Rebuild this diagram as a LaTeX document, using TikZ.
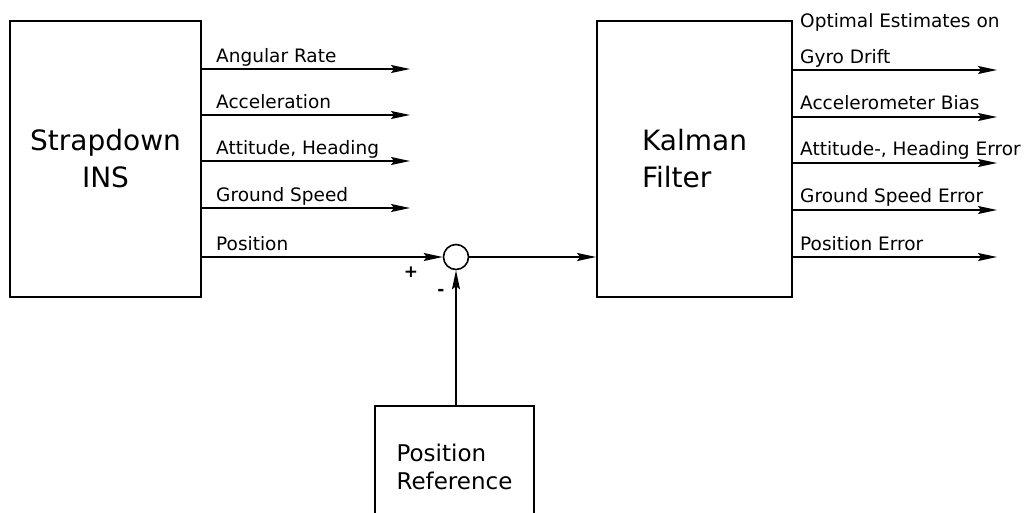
\documentclass[tikz,border=0pt]{standalone}
\usepackage{fontspec}
\setmainfont{DejaVu Sans}
\usetikzlibrary{arrows.meta}

\begin{document}
\begin{tikzpicture}[
    x=1pt, y=1pt,
    >={Stealth[length=19pt, width=8pt, inset=3pt]},
    box/.style={
        draw,
        line width=1.8pt,
        inner sep=0pt,
        font=\fontsize{28}{37}\selectfont
    },
    sig/.style={->, line width=1.5pt},
    lbl/.style={
        anchor=base west,
        inner sep=0pt,
        font=\fontsize{18.5}{20}\selectfont
    },
    sign/.style={inner sep=0pt, font=\bfseries\fontsize{17}{17}\selectfont}
]

\useasboundingbox (0,0) rectangle (1035,-512);

\node[box, minimum width=191pt, minimum height=276pt, align=center] (ins) at (105.5,-159)
    {Strapdown\\INS};

\node[box, minimum width=195pt, minimum height=276pt, align=left] (kf) at (694.5,-159)
    {Kalman\\Filter};

\node[box, minimum width=159pt, minimum height=122pt, align=left,
      font=\fontsize{23}{28}\selectfont] (ref) at (454.5,-467)
    {Position\\Reference};

\node[draw, circle, minimum size=25pt, inner sep=0pt, line width=1.6pt] (sum) at (456,-257) {};

\node[sign] (plus) at (411,-272) {+};
\node[sign] (minus) at (441,-292) {-};

% INS outputs
\coordinate (ar) at (410,-69);
\coordinate (ac) at (410,-115);
\coordinate (ah) at (410,-161);
\coordinate (gs) at (410,-208);

\node[lbl] (lar) at (216,-62) {Angular Rate};
\node[lbl] (lac) at (216,-108) {Acceleration};
\node[lbl] (lah) at (216,-154) {Attitude, Heading};
\node[lbl] (lgs) at (216,-201) {Ground Speed};
\node[lbl] (lpo) at (216,-250) {Position};

\draw[sig] (ins.east |- ar) -- (ar);
\draw[sig] (ins.east |- ac) -- (ac);
\draw[sig] (ins.east |- ah) -- (ah);
\draw[sig] (ins.east |- gs) -- (gs);
\draw[sig] (ins.east |- sum) -- (sum.west);

\draw[sig] (sum.east) -- (kf.west |- sum);
\draw[sig] (sum |- ref.north) -- (sum.south);

% Kalman outputs
\coordinate (gd) at (997,-70);
\coordinate (ab) at (997,-117);
\coordinate (he) at (997,-163);
\coordinate (se) at (997,-210);
\coordinate (pe) at (997,-257);

\node[lbl] (lopt) at (800,-27) {Optimal Estimates on};
\node[lbl] (lgd) at (800,-63) {Gyro Drift};
\node[lbl] (lab) at (800,-109) {Accelerometer Bias};
\node[lbl] (lhe) at (800,-155) {Attitude-, Heading Error};
\node[lbl] (lse) at (800,-202) {Ground Speed Error};
\node[lbl] (lpe) at (800,-250) {Position Error};

\draw[sig] (kf.east |- gd) -- (gd);
\draw[sig] (kf.east |- ab) -- (ab);
\draw[sig] (kf.east |- he) -- (he);
\draw[sig] (kf.east |- se) -- (se);
\draw[sig] (kf.east |- pe) -- (pe);

\end{tikzpicture}
\end{document}
